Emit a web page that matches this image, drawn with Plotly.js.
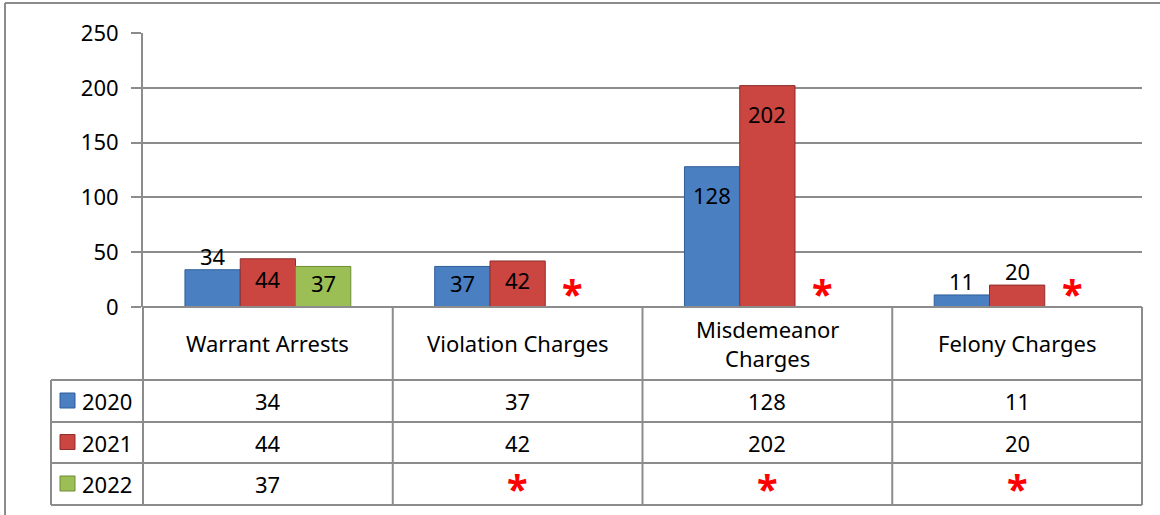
<!DOCTYPE html>
<html>
<head>
<meta charset="utf-8">
<script src="https://cdn.plot.ly/plotly-3.0.1.min.js"></script>
<style>html,body{margin:0;padding:0;background:#fff;}#chart{width:1160px;height:515px;}</style>
</head>
<body>
<div id="chart"></div>
<script>
// ---- data ----
const categories = ['Warrant Arrests', 'Violation Charges', 'Misdemeanor Charges', 'Felony Charges'];
const categoryLabels = ['Warrant Arrests', 'Violation Charges', 'Misdemeanor<br>Charges', 'Felony Charges'];
const years = ['2020', '2021', '2022'];
const values2020 = [34, 37, 128, 11];
const values2021 = [44, 42, 202, 20];
const values2022 = [37, null, null, null];
const yTickValues = [0, 50, 100, 150, 200, 250];
const missingMark = '*';

// ---- styling ----
const FONT = 'Noto Sans, Open Sans, sans-serif';
const FS = 22;
const STAR_FS = 38;
const colors = ['#4a7fc1', '#cb4541', '#9cbf55'];
const edges = ['#2f5e99', '#8e2f2c', '#6f8c35'];
const GRID = '#8c8c8c';
const L = 143, R = 1142, T = 33, B = 307;       // plot area in pixels
const px = x => (x - L) / (R - L);
const py = y => (B - y) / (B - T);
const yMax = 250;
const pxPerUnit = (B - T) / yMax;
const bargap = 0.336;
const barPx = (R - L) / categories.length * (1 - bargap) / years.length;

const series = [values2020, values2021, values2022];

const traces = series.map((vals, s) => ({
  type: 'bar',
  name: years[s],
  x: categories,
  y: vals,
  marker: {color: colors[s], line: {color: edges[s], width: 1}},
  hoverinfo: 'skip',
  showlegend: false
}));

const shapes = [];
const annotations = [];
const line = (x0, y0, x1, y1, w) => shapes.push({type: 'line', xref: 'paper', yref: 'paper',
  x0: x0, y0: y0, x1: x1, y1: y1, line: {color: GRID, width: w || 2}, layer: 'above'});

// outer frame (top & left)
line(px(5), py(3), px(1160), py(3));
line(px(5), py(3), px(5), py(515));

// table grid
const rowTops = [B, 380, 422, 463, 505];
const nCat = categories.length;
for (let i = 0; i <= nCat; i++) line(i / nCat, py(B), i / nCat, py(505));
line(0, py(B), 1, py(B));
for (let r = 1; r < rowTops.length; r++) line(px(51), py(rowTops[r]), 1, py(rowTops[r]));
line(px(51), py(380), px(51), py(505));

// asterisk marker for missing values
const star = (xref, yref, x, y, xshift, yshift) => ({
  xref: xref, yref: yref, x: x, y: y, text: '<b>' + missingMark + '</b>', showarrow: false,
  xanchor: 'center', yanchor: 'middle', xshift: xshift, yshift: yshift,
  font: {family: FONT, size: STAR_FS, color: '#ff0000'}
});

// category labels
categories.forEach((c, i) => annotations.push({
  xref: 'x', yref: 'paper', x: c, y: py(343), text: categoryLabels[i], showarrow: false,
  xanchor: 'center', yanchor: 'middle', font: {family: FONT, size: FS, color: '#000'}
}));

// rows: legend key + year + values
series.forEach((vals, s) => {
  const yc = (rowTops[s + 1] + rowTops[s + 2]) / 2;
  shapes.push({type: 'rect', xref: 'paper', yref: 'paper', x0: px(60), x1: px(75),
    y0: py(yc + 7), y1: py(yc - 8), fillcolor: colors[s], line: {color: edges[s], width: 1}});
  annotations.push({xref: 'paper', yref: 'paper', x: px(80), y: py(yc), text: years[s],
    showarrow: false, xanchor: 'left', yanchor: 'middle', font: {family: FONT, size: FS, color: '#000'}});
  vals.forEach((v, i) => {
    if (v === null) {
      annotations.push(star('x', 'paper', categories[i], py(yc), 0, -4));
    } else {
      annotations.push({xref: 'x', yref: 'paper', x: categories[i], y: py(yc), text: String(v),
        showarrow: false, xanchor: 'center', yanchor: 'middle', font: {family: FONT, size: FS, color: '#000'}});
    }
  });
});

// data labels on bars & missing markers in plot
series.forEach((vals, s) => {
  const xshift = (s - (years.length - 1) / 2) * barPx;
  vals.forEach((v, i) => {
    if (v === null) {
      annotations.push(star('x', 'y', categories[i], 0, xshift, 14));
      return;
    }
    const h = v * pxPerUnit;
    const ys = h < 40 ? 14 : -Math.min(28, h / 2 - 4);
    annotations.push({xref: 'x', yref: 'y', x: categories[i], y: v, text: String(v),
      showarrow: false, xanchor: 'center', yanchor: 'middle', xshift: xshift, yshift: ys,
      font: {family: FONT, size: FS, color: '#000'}});
  });
});

const layout = {
  width: 1160, height: 515,
  margin: {l: L, r: 1160 - R, t: T, b: 515 - B, pad: 0},
  paper_bgcolor: '#fff', plot_bgcolor: '#fff',
  barmode: 'group', bargap: bargap, bargroupgap: 0,
  showlegend: false,
  font: {family: FONT, size: FS, color: '#000'},
  xaxis: {type: 'category', showticklabels: false, showgrid: false, zeroline: false, showline: false,
    ticks: '', fixedrange: true},
  yaxis: {range: [0, yMax], tickvals: yTickValues, showgrid: true, gridcolor: GRID, gridwidth: 2,
    zeroline: false, showline: true, linecolor: GRID, linewidth: 2, ticks: 'outside', ticklen: 10,
    ticklabelstandoff: 8,
    tickcolor: GRID, tickwidth: 2, tickfont: {family: FONT, size: FS, color: '#000'}, fixedrange: true},
  shapes: shapes,
  annotations: annotations
};

Plotly.newPlot('chart', traces, layout, {displayModeBar: false, staticPlot: true});
</script>
</body>
</html>
